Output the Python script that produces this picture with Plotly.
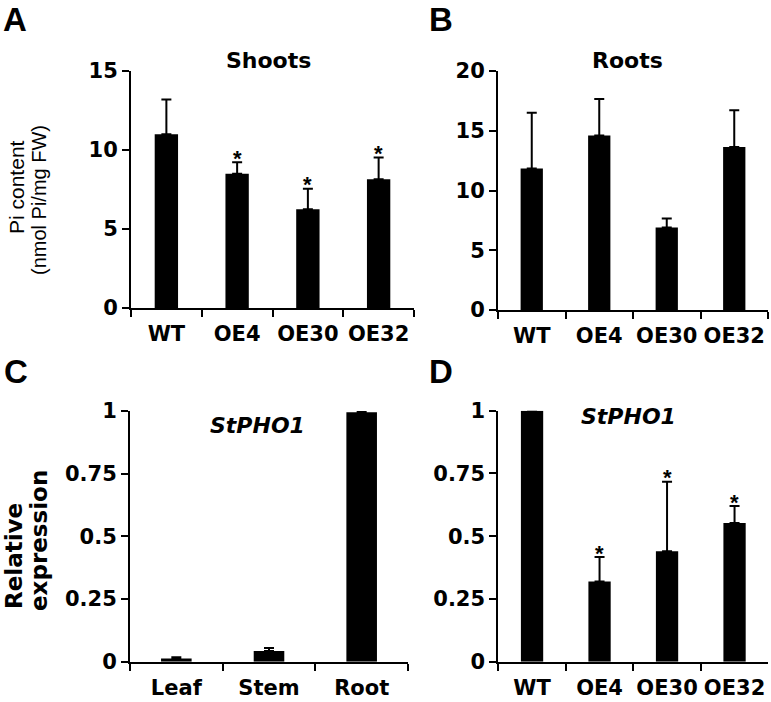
import plotly.graph_objects as go

# ---- data ----
lines = ["WT", "OE4", "OE30", "OE32"]
tissues = ["Leaf", "Stem", "Root"]

shoots_pi = [11.0, 8.5, 6.25, 8.15]
shoots_err = [2.2, 0.72, 1.3, 1.38]
shoots_sig = [False, True, True, True]

roots_pi = [11.85, 14.6, 6.9, 13.65]
roots_err = [4.65, 3.05, 0.75, 3.07]
roots_sig = [False, False, False, False]

tissue_expr = [0.013, 0.043, 0.995]
tissue_err = [0.005, 0.012, 0.004]
tissue_sig = [False, False, False]

oe_expr = [1.0, 0.32, 0.44, 0.553]
oe_err = [0.002, 0.097, 0.277, 0.067]
oe_sig = [False, True, True, True]

W, H = 771, 702
ARIAL = "Liberation Sans, Arial, sans-serif"
WIDE = "DejaVu Sans, Liberation Sans, sans-serif"

def px(x):
    return x / W

def py(y):
    return 1 - y / H

fig = go.Figure()

panels = [
    (lines, shoots_pi, shoots_err, shoots_sig, "x", "y", (131, 414), (308, 71), [0, 15], 5),
    (lines, roots_pi, roots_err, roots_sig, "x2", "y2", (498, 768), (310, 71), [0, 20], 5),
    (tissues, tissue_expr, tissue_err, tissue_sig, "x3", "y3", (130, 408), (661.7, 411), [0, 1], 0.25),
    (lines, oe_expr, oe_err, oe_sig, "x4", "y4", (498.3, 768.3), (661.7, 410.7), [0, 1], 0.25),
]

axfont = dict(family=WIDE, size=21, color="black", weight="bold")

for i, (cats, vals, errs, sig, xa, ya, xd, yd, yr, dt) in enumerate(panels):
    fig.add_trace(go.Bar(
        x=cats, y=vals, xaxis=xa, yaxis=ya, width=0.33,
        marker=dict(color="black", line=dict(width=0)),
        error_y=dict(type="data", symmetric=False, array=errs,
                     arrayminus=[0] * len(errs), thickness=2, width=5, color="black"),
        showlegend=False,
    ))
    for c, v, e, s in zip(cats, vals, errs, sig):
        if s:
            fig.add_annotation(
                x=c, y=v + e, xref=xa, yref=ya, text="*", showarrow=False,
                xanchor="center", yanchor="middle", yshift=4,
                font=dict(family=ARIAL, size=22, color="black", weight="bold"),
            )
    suffix = "" if i == 0 else str(i + 1)
    fig.layout["xaxis" + suffix] = dict(
        domain=[px(xd[0]), px(xd[1])], anchor=ya, type="category",
        range=[-0.5, len(cats) - 0.5], tickson="boundaries", tickangle=0,
        ticks="outside", ticklen=7, tickwidth=2, tickcolor="black",
        showline=True, linewidth=2, linecolor="black", showgrid=False,
        tickfont=axfont, fixedrange=True, automargin=False, ticklabelstandoff=6,
    )
    fig.layout["yaxis" + suffix] = dict(
        domain=[py(yd[0]), py(yd[1])], anchor=xa, range=yr, dtick=dt,
        ticks="outside", ticklen=7, tickwidth=2, tickcolor="black",
        showline=True, linewidth=2, linecolor="black", showgrid=False,
        zeroline=False, tickfont=axfont, fixedrange=True, automargin=False,
    )

# panel letters, anchored to the top of the page
for text, x, y in [("A", 15, 0), ("B", 441, 0), ("C", 16, 352), ("D", 441, 352)]:
    fig.add_annotation(
        text=text, x=px(x), y=py(y), xref="paper", yref="paper",
        showarrow=False, xanchor="center", yanchor="top", borderpad=0,
        font=dict(family=ARIAL, size=33, color="black", weight="bold"),
    )

titles = [
    dict(text="Shoots", x=268, y=60, italic=False),
    dict(text="Roots", x=627, y=60, italic=False),
    dict(text="StPHO1", x=257, y=426, italic=True),
    dict(text="StPHO1", x=628, y=416, italic=True),
]
for a in titles:
    fig.add_annotation(
        text=a["text"], x=px(a["x"]), y=py(a["y"]), xref="paper", yref="paper",
        showarrow=False, xanchor="center", yanchor="middle",
        font=dict(family=WIDE, size=22, color="black", weight="bold",
                  style="italic" if a["italic"] else "normal"),
    )

# rotated y-axis titles, one line each
ytitles = [
    dict(text="Pi content", x=17, y=187, fam=ARIAL, size=21, weight="normal", anchor="center"),
    dict(text="(nmol Pi/mg FW)", x=39, y=200, fam=ARIAL, size=20, weight="normal", anchor="center"),
    dict(text="Relative", x=0, y=556, fam=WIDE, size=23, weight="bold", anchor="left"),
    dict(text="expression", x=39, y=541, fam=WIDE, size=23, weight="bold", anchor="center"),
]
for t in ytitles:
    fig.add_annotation(
        text=t["text"], x=px(t["x"]), y=py(t["y"]), xref="paper", yref="paper",
        showarrow=False, textangle=-90, xanchor=t["anchor"], yanchor="middle", borderpad=0,
        font=dict(family=t["fam"], size=t["size"], color="black", weight=t["weight"]),
    )

fig.update_layout(
    width=W, height=H, margin=dict(l=0, r=0, t=0, b=0, autoexpand=False),
    paper_bgcolor="white", plot_bgcolor="white",
    font=dict(family=ARIAL, color="black"),
)

fig.write_html("out.html", config={"displayModeBar": False},
               post_script="document.body.style.margin='0';document.body.style.overflow='hidden';")
